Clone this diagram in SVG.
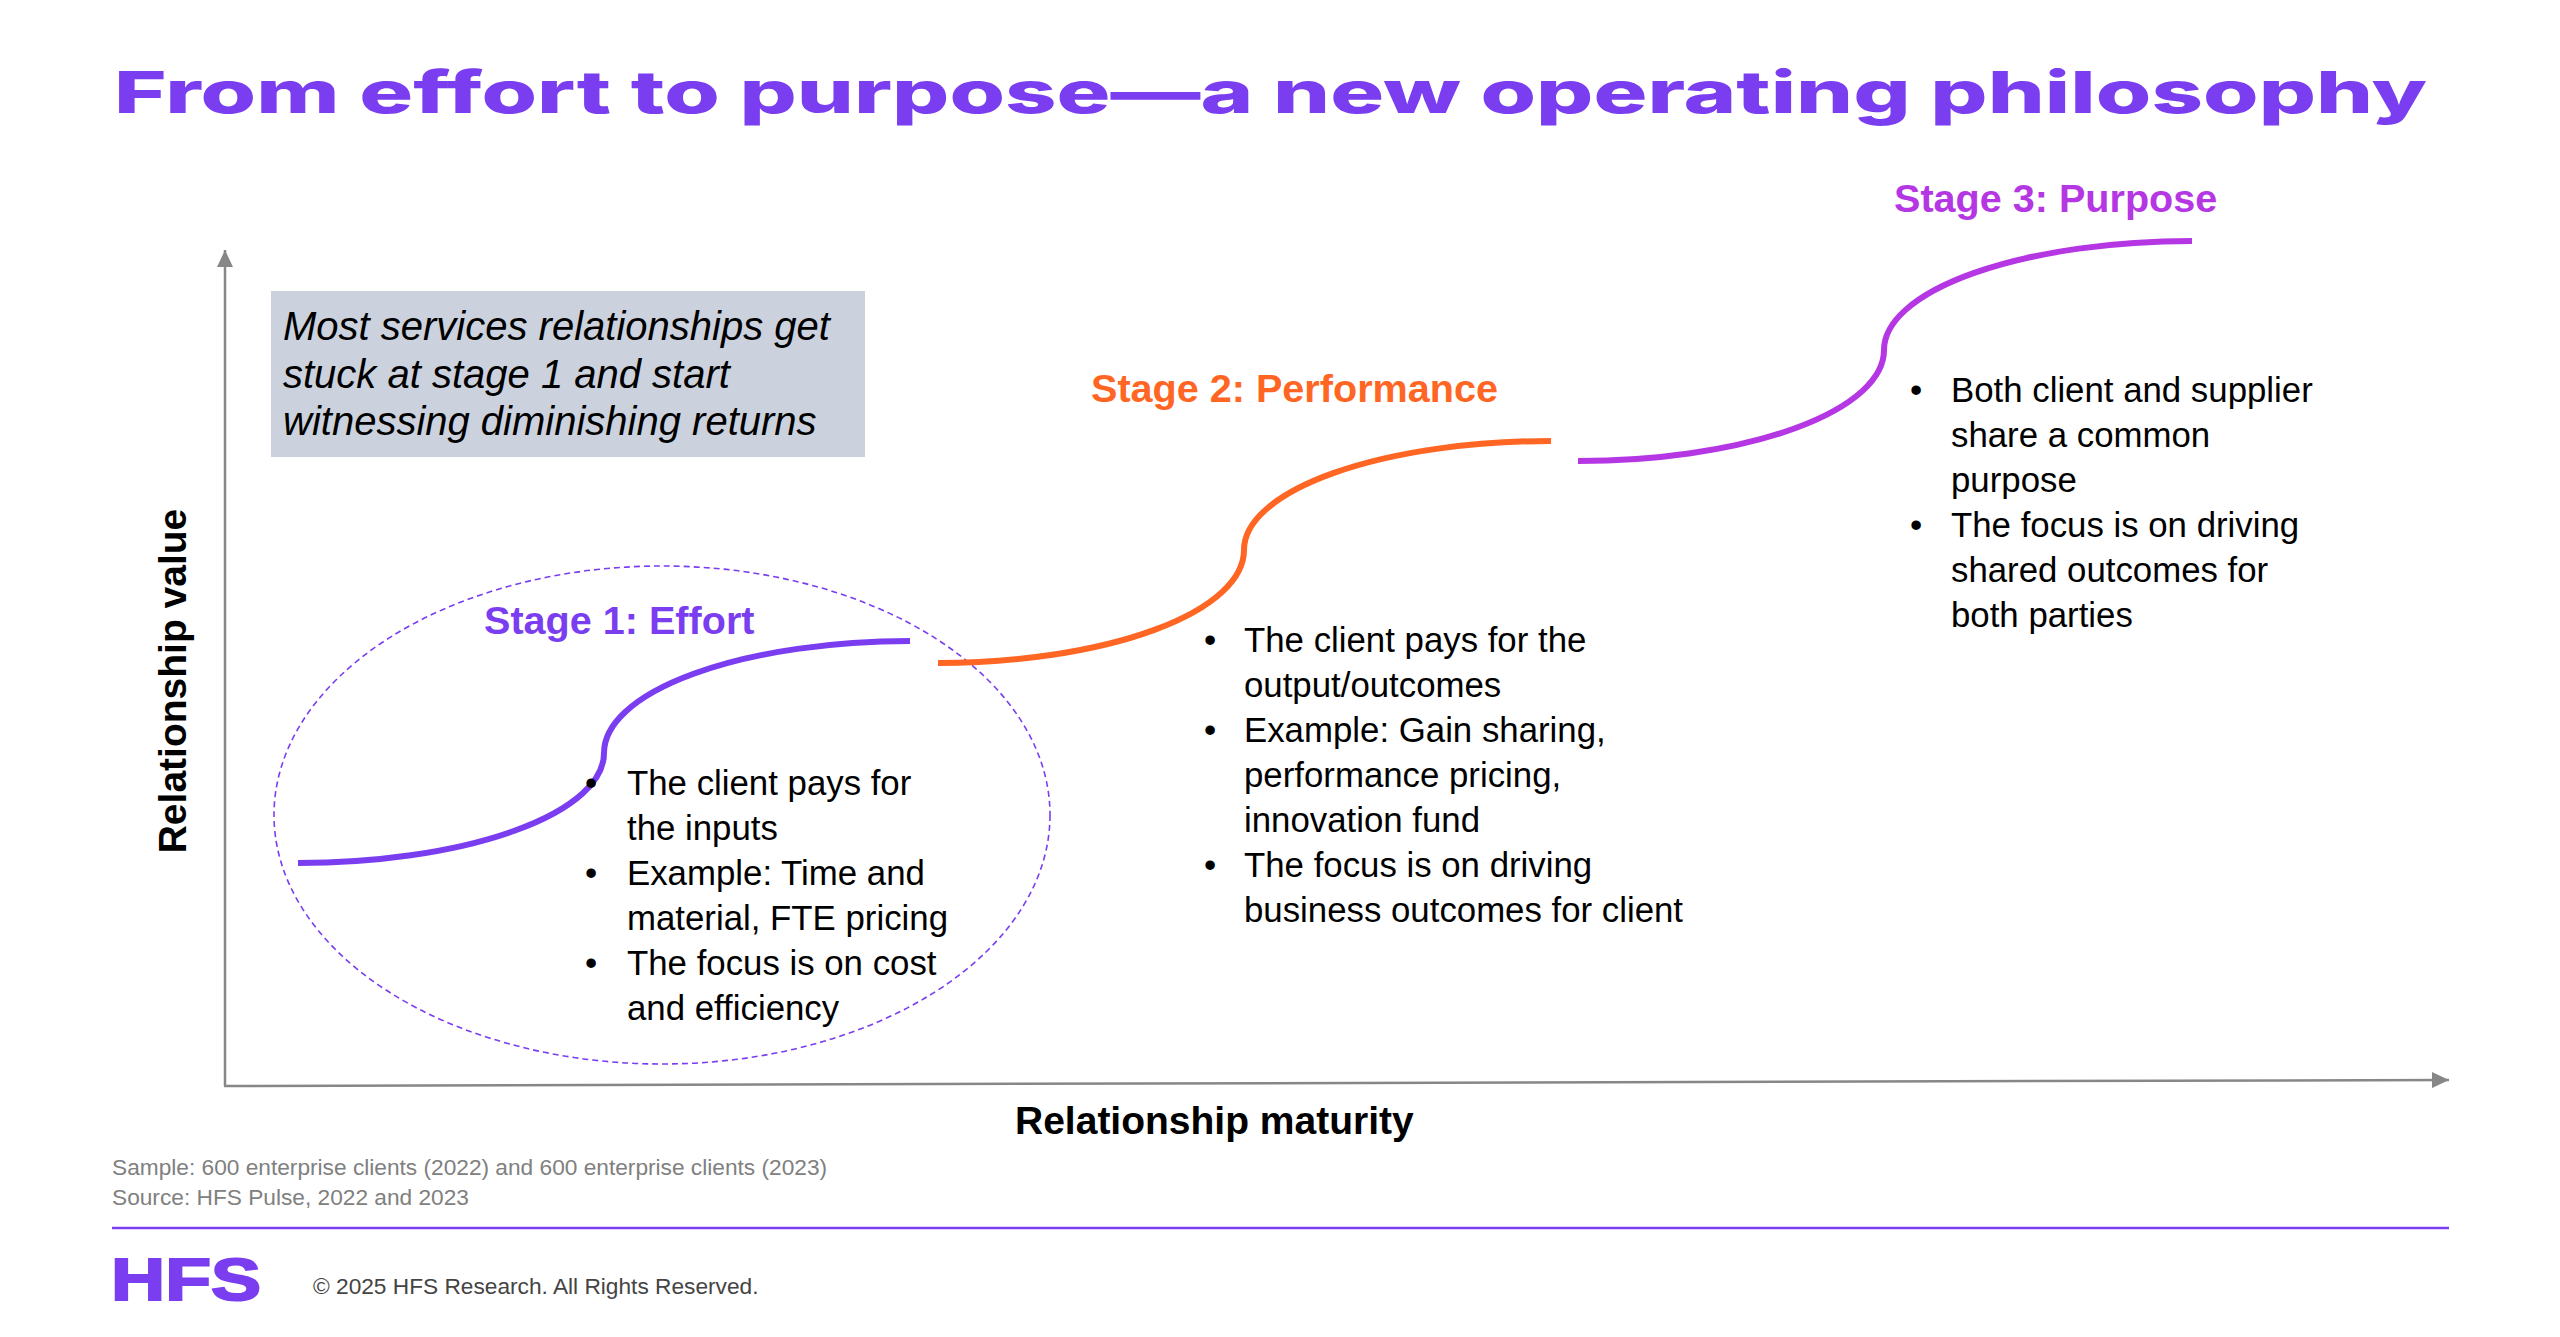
<svg xmlns="http://www.w3.org/2000/svg" width="2560" height="1337" viewBox="0 0 2560 1337">
<defs>
<style>
.title{font-family:Inter,"Liberation Sans",sans-serif;font-weight:800;font-size:58px;fill:#7A3EF0}
.stage{font-family:"Liberation Sans",Arial,sans-serif;font-weight:700;font-size:39.6px}
.body{font-family:"Liberation Sans",Arial,sans-serif;font-size:34.8px;fill:#000}
.axislbl{font-family:"Liberation Sans",Arial,sans-serif;font-weight:700;font-size:39px;fill:#000}
.note{font-family:"Liberation Sans",Arial,sans-serif;font-style:italic;font-size:40px;fill:#000}
.foot{font-family:"Liberation Sans",Arial,sans-serif;font-size:22.7px;fill:#808080}
.copy{font-family:"Liberation Sans",Arial,sans-serif;font-size:22.7px;fill:#444}
.axis{stroke:#878787;stroke-width:2.5;fill:none}
.curve{fill:none;stroke-width:6;stroke-linecap:butt}
</style>
<marker id="arr" viewBox="0 0 17 16" refX="17" refY="8" markerWidth="17" markerHeight="16" markerUnits="userSpaceOnUse" orient="auto">
<path d="M0,0 L17,8 L0,16 Z" fill="#878787"/>
</marker>
</defs>
<rect width="2560" height="1337" fill="#fff"/>

<g id="title">
<text class="title" x="114" y="113" textLength="2313" lengthAdjust="spacingAndGlyphs">From effort to purpose—a new operating philosophy</text>
</g>

<g id="connectors">
<line class="axis" x1="225" y1="1086" x2="225" y2="250" marker-end="url(#arr)"/>
<line class="axis" x1="224" y1="1086" x2="2449" y2="1080" marker-end="url(#arr)"/>
</g>

<g id="axis-labels">
<text class="axislbl" transform="translate(186,681) rotate(-90)" text-anchor="middle">Relationship value</text>
<text class="axislbl" x="1015" y="1134">Relationship maturity</text>
</g>

<g id="note">
<rect x="271" y="291" width="594" height="166" fill="#CBD2DD"/>
<text class="note" x="283" y="340">Most services relationships get</text>
<text class="note" x="283" y="388">stuck at stage 1 and start</text>
<text class="note" x="283" y="435">witnessing diminishing returns</text>
</g>

<g id="stage1">
<ellipse cx="662" cy="815" rx="388" ry="249" fill="none" stroke="#7A3EF0" stroke-width="1.6" stroke-dasharray="6 4"/>
<path class="curve" stroke="#7A3EF0" d="M298,863 A306,110 0 0 0 604,753 A306,112 0 0 1 910,641"/>
<text class="stage" x="484" y="634" fill="#7A3EF0">Stage 1: Effort</text>
<g class="body">
<text x="591" y="795" text-anchor="middle">•</text>
<text x="627" y="795">The client pays for</text>
<text x="627" y="840">the inputs</text>
<text x="591" y="885" text-anchor="middle">•</text>
<text x="627" y="885">Example: Time and</text>
<text x="627" y="930">material, FTE pricing</text>
<text x="591" y="975" text-anchor="middle">•</text>
<text x="627" y="975">The focus is on cost</text>
<text x="627" y="1020">and efficiency</text>
</g>
</g>

<g id="stage2">
<path class="curve" stroke="#FF6624" d="M938,663 A306,113 0 0 0 1244,550 A307,109 0 0 1 1551,441"/>
<text class="stage" x="1091" y="402" fill="#FF6624">Stage 2: Performance</text>
<g class="body">
<text x="1210" y="652" text-anchor="middle">•</text>
<text x="1244" y="652">The client pays for the</text>
<text x="1244" y="697">output/outcomes</text>
<text x="1210" y="742" text-anchor="middle">•</text>
<text x="1244" y="742">Example: Gain sharing,</text>
<text x="1244" y="787">performance pricing,</text>
<text x="1244" y="832">innovation fund</text>
<text x="1210" y="877" text-anchor="middle">•</text>
<text x="1244" y="877">The focus is on driving</text>
<text x="1244" y="922">business outcomes for client</text>
</g>
</g>

<g id="stage3">
<path class="curve" stroke="#B537E3" d="M1578,461 A306,111 0 0 0 1884,350 A308,109 0 0 1 2192,241"/>
<text class="stage" x="1894" y="212" fill="#B537E3">Stage 3: Purpose</text>
<g class="body">
<text x="1916" y="402" text-anchor="middle">•</text>
<text x="1951" y="402">Both client and supplier</text>
<text x="1951" y="447">share a common</text>
<text x="1951" y="492">purpose</text>
<text x="1916" y="537" text-anchor="middle">•</text>
<text x="1951" y="537">The focus is on driving</text>
<text x="1951" y="582">shared outcomes for</text>
<text x="1951" y="627">both parties</text>
</g>
</g>

<g id="footer">
<text class="foot" x="112" y="1175">Sample: 600 enterprise clients (2022) and 600 enterprise clients (2023)</text>
<text class="foot" x="112" y="1205">Source: HFS Pulse, 2022 and 2023</text>
<line x1="112" y1="1228" x2="2449" y2="1228" stroke="#7A3EF0" stroke-width="2.5"/>
<text x="111" y="1300" textLength="150" lengthAdjust="spacingAndGlyphs" font-family="'Liberation Sans',Arial,sans-serif" font-weight="700" font-size="59" fill="#7A3EF0" stroke="#7A3EF0" stroke-width="2">HFS</text>
<text class="copy" x="313" y="1294">© 2025 HFS Research. All Rights Reserved.</text>
</g>
</svg>
